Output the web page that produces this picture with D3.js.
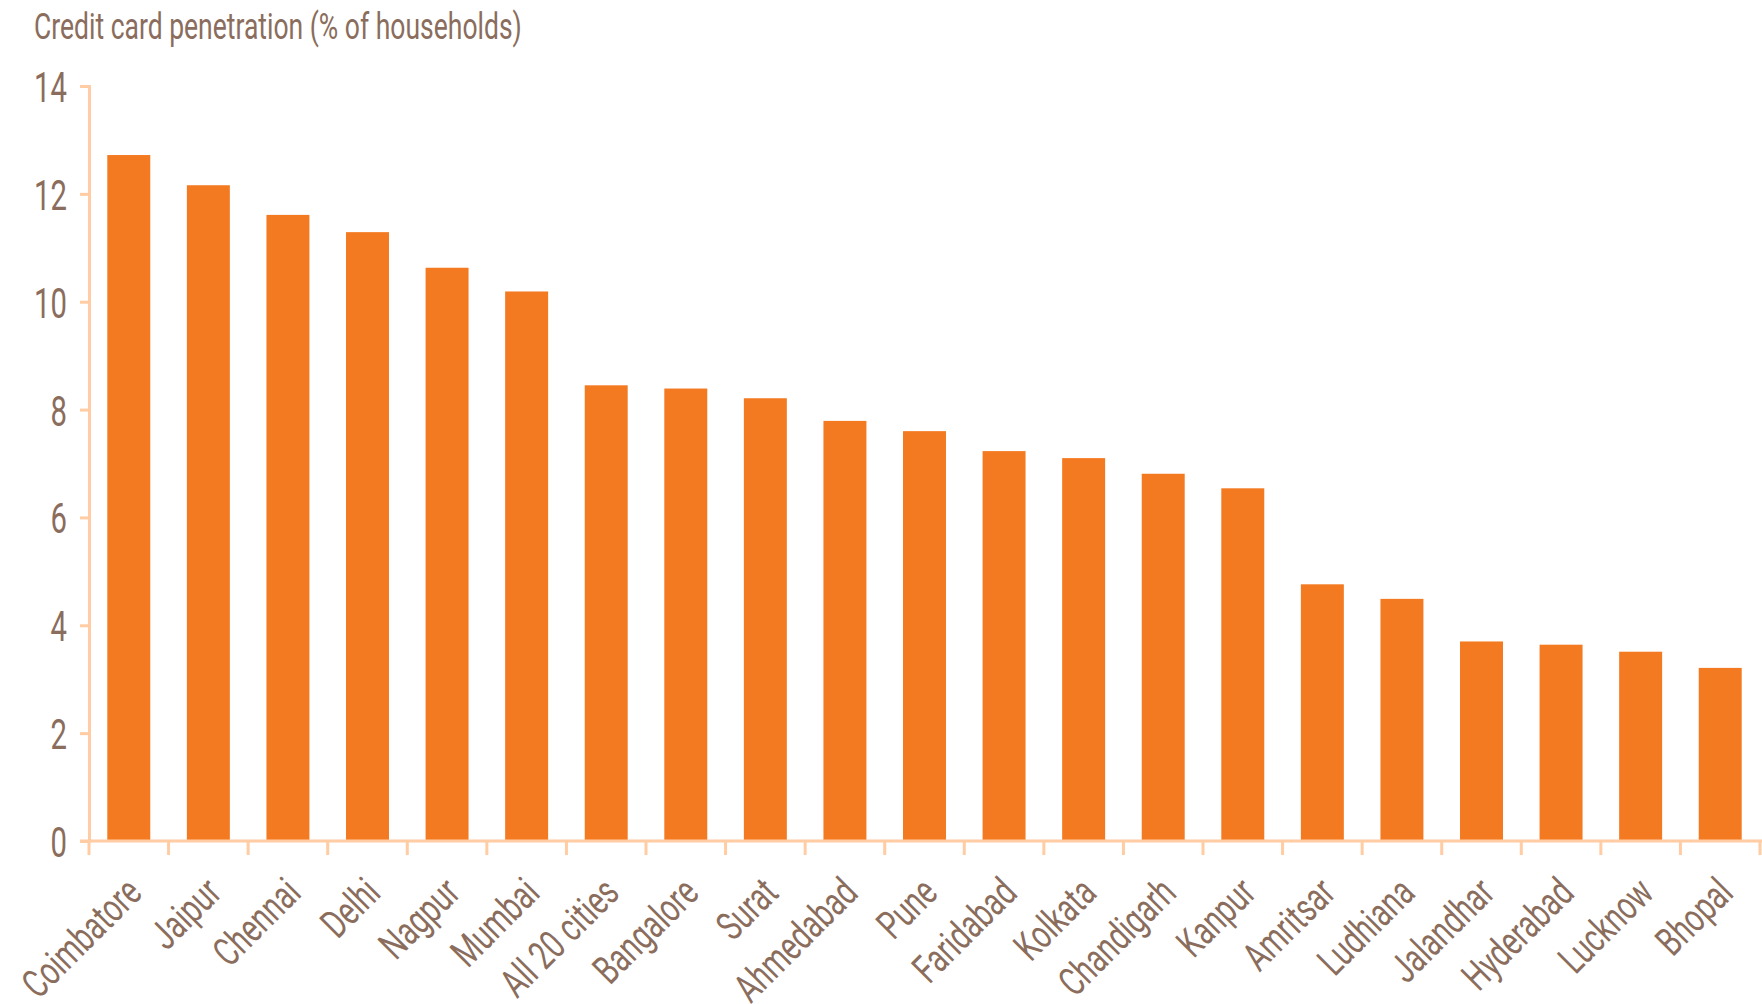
<!DOCTYPE html>
<html><head><meta charset="utf-8">
<script src="https://cdn.jsdelivr.net/npm/d3@7"></script>
<style>
html,body{margin:0;padding:0;background:#fff;}
svg text{font-family:Roboto,"Liberation Sans",sans-serif;font-weight:400;fill:#8a6d5c;}
</style></head><body>
<svg id="chart" width="1762" height="1004"></svg>
<script>
const cities = ["Coimbatore","Jaipur","Chennai","Delhi","Nagpur","Mumbai","All 20 cities","Bangalore","Surat","Ahmedabad","Pune","Faridabad","Kolkata","Chandigarh","Kanpur","Amritsar","Ludhiana","Jalandhar","Hyderabad","Lucknow","Bhopal"];
const penetration = [12.72,12.16,11.61,11.29,10.63,10.19,8.45,8.39,8.21,7.79,7.60,7.23,7.10,6.81,6.54,4.76,4.49,3.70,3.64,3.51,3.21];
const yTicks = [0,2,4,6,8,10,12,14];
const title = "Credit card penetration (% of households)";

const svg = d3.select("#chart");
const axisColor = "#ffcca3", barColor = "#f47a21";
const x = d3.scaleBand().domain(cities).range([89, 1760]).paddingInner(0.46).paddingOuter(0.23);
const y = d3.scaleLinear().domain([0,14]).range([841, 86]);

// title, compressed to the condensed look of the original
const t = svg.append("text").attr("x",34).attr("y",39).style("font-size","37px").text(title);
const k = 488 / t.node().getComputedTextLength();
t.attr("transform",`translate(34,0) scale(${k},1) translate(-34,0)`);

// bars
svg.append("g").selectAll("rect").data(cities).join("rect")
  .attr("x", d => x(d)).attr("width", x.bandwidth())
  .attr("y", (d,i) => y(penetration[i])).attr("height", (d,i) => y(0) - y(penetration[i]))
  .attr("fill", barColor);

// y axis
const ya = svg.append("g").attr("transform","translate(89,0)")
  .call(d3.axisLeft(y).tickValues(yTicks).tickSize(9).tickPadding(13).tickSizeOuter(9));
ya.select(".domain").attr("stroke",axisColor).attr("stroke-width",3);
ya.selectAll(".tick line").attr("stroke",axisColor).attr("stroke-width",3);
ya.selectAll(".tick text").style("font-size","43px").attr("fill","#8a6d5c")
  .attr("dy","0.36em")
  .attr("transform", function(){ const xx = +d3.select(this).attr("x"); return `translate(${xx},0) scale(${k*0.95},1) translate(${-xx},0)`; });

// x axis
const xa = svg.append("g").attr("transform",`translate(0,${y(0)})`);
xa.append("line").attr("x1",80).attr("x2",1762).attr("stroke",axisColor).attr("stroke-width",3);
const step = x.step();
const bounds = d3.range(cities.length+1).map(i => x.range()[0] + i*step);
xa.selectAll("line.tk").data(bounds).join("line").attr("class","tk")
  .attr("x1",d=>d).attr("x2",d=>d).attr("y1",0).attr("y2",14)
  .attr("stroke",axisColor).attr("stroke-width",3);
xa.selectAll("text").data(cities).join("text")
  .attr("text-anchor","end")
  .style("font-size","40px")
  .attr("transform", d => `translate(${x(d)+x.bandwidth()/2+15},${54}) rotate(-45) scale(${k},1)`)
  .text(d => d);
</script></body></html>
